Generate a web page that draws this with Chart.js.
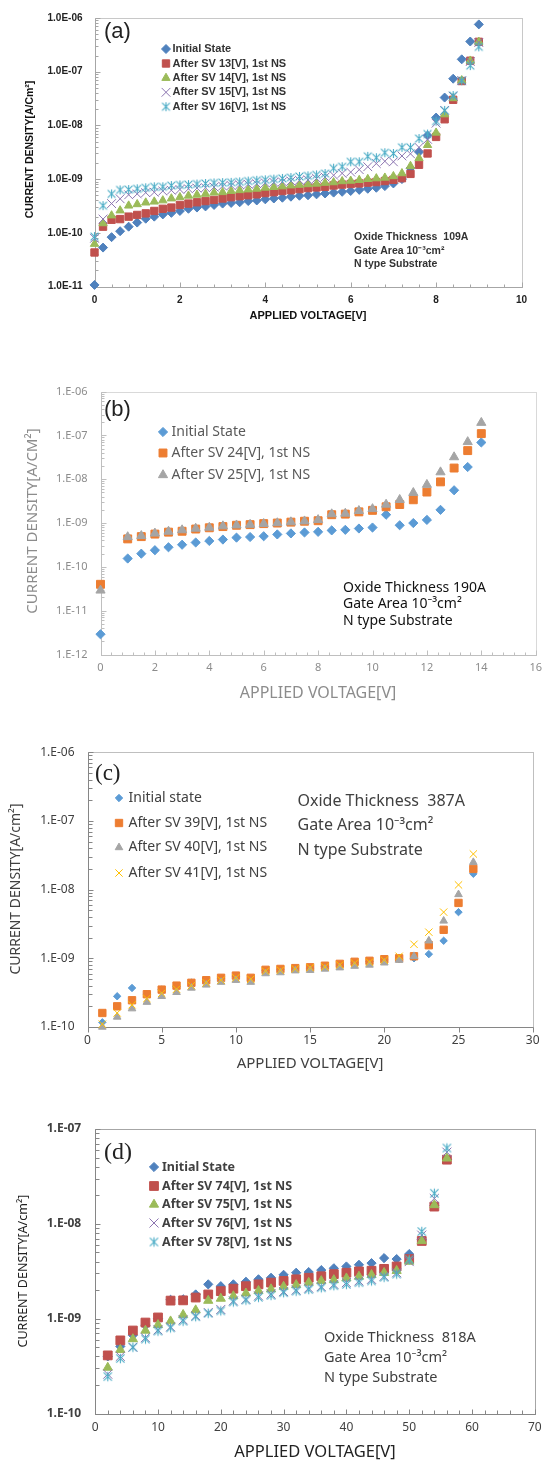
<!DOCTYPE html>
<html><head><meta charset="utf-8">
<script src="https://cdn.jsdelivr.net/npm/chart.js@4.4.1/dist/chart.umd.min.js"></script>
<style>html,body{margin:0;padding:0;background:#fff}body{width:549px;height:1461px;position:relative;overflow:hidden}canvas{position:absolute;left:0;display:block}</style>
</head><body>
<canvas id="ca"></canvas><canvas id="cb"></canvas><canvas id="cc"></canvas><canvas id="cd"></canvas>
<script>
// ---------------- Panel (a) data ----------------
const aX = [0,0.2,0.4,0.6,0.8,1,1.2,1.4,1.6,1.8,2,2.2,2.4,2.6,2.8,3,3.2,3.4,3.6,3.8,4,4.2,4.4,4.6,4.8,5,5.2,5.4,5.6,5.8,6,6.2,6.4,6.6,6.8,7,7.2,7.4,7.6,7.8,8,8.2,8.4,8.6,8.8,9];
const aInit = [1.07e-11,5.3e-11,8.3e-11,1.07e-10,1.3e-10,1.55e-10,1.83e-10,2.0e-10,2.2e-10,2.35e-10,2.55e-10,2.8e-10,2.95e-10,3.1e-10,3.3e-10,3.5e-10,3.6e-10,3.7e-10,3.9e-10,4.0e-10,4.2e-10,4.35e-10,4.5e-10,4.7e-10,4.9e-10,5.0e-10,5.2e-10,5.4e-10,5.6e-10,5.8e-10,6.0e-10,6.3e-10,6.6e-10,6.9e-10,7.4e-10,8.3e-10,1.0e-9,1.6e-9,3.2e-9,6.5e-9,1.4e-8,3.3e-8,7.4e-8,1.7e-7,3.65e-7,7.6e-7];
const aSV13 = [4.3e-11,1.3e-10,1.75e-10,1.8e-10,2.0e-10,2.15e-10,2.3e-10,2.55e-10,2.8e-10,2.95e-10,3.3e-10,3.5e-10,3.7e-10,3.9e-10,4.1e-10,4.35e-10,4.6e-10,4.8e-10,5.0e-10,5.2e-10,5.5e-10,5.7e-10,6.0e-10,6.2e-10,6.5e-10,6.8e-10,7.0e-10,7.2e-10,7.6e-10,7.9e-10,8.1e-10,8.3e-10,8.6e-10,8.8e-10,9.2e-10,9.7e-10,1.04e-9,1.25e-9,1.85e-9,3.0e-9,6.1e-9,1.3e-8,3.0e-8,6.7e-8,1.6e-7,3.6e-7];
const aSV14 = [6.2e-11,1.5e-10,2.1e-10,2.6e-10,3.2e-10,3.4e-10,3.65e-10,3.8e-10,4.0e-10,4.35e-10,4.6e-10,4.9e-10,5.1e-10,5.3e-10,5.6e-10,5.7e-10,6.0e-10,6.2e-10,6.4e-10,6.6e-10,6.9e-10,7.1e-10,7.3e-10,7.6e-10,7.8e-10,8.0e-10,8.2e-10,8.5e-10,8.7e-10,9.1e-10,9.3e-10,9.6e-10,1.0e-9,1.03e-9,1.06e-9,1.13e-9,1.28e-9,1.75e-9,2.45e-9,4.3e-9,7.3e-9,1.6e-8,3.2e-8,6.9e-8,1.6e-7,3.6e-7];
const aSV15 = [7.9e-11,1.8e-10,3.5e-10,4.3e-10,5.1e-10,5.3e-10,5.6e-10,5.7e-10,6.0e-10,6.2e-10,6.4e-10,6.6e-10,6.8e-10,6.9e-10,7.1e-10,7.4e-10,7.6e-10,7.8e-10,8.0e-10,8.2e-10,8.5e-10,8.7e-10,8.9e-10,9.2e-10,9.5e-10,9.7e-10,1.03e-9,1.09e-9,1.18e-9,1.28e-9,1.35e-9,1.5e-9,1.7e-9,1.95e-9,2.15e-9,2.1e-9,2.7e-9,2.96e-9,3.9e-9,5.5e-9,1.1e-8,1.9e-8,3.5e-8,6.8e-8,1.55e-7,3.5e-7];
const aSV16 = [8.5e-11,3.2e-10,5.3e-10,6.3e-10,6.4e-10,6.6e-10,6.9e-10,7.2e-10,7.2e-10,7.6e-10,7.8e-10,7.9e-10,8.1e-10,8.3e-10,8.5e-10,8.6e-10,8.7e-10,8.9e-10,9.2e-10,9.5e-10,9.7e-10,1.0e-9,1.03e-9,1.07e-9,1.12e-9,1.15e-9,1.2e-9,1.27e-9,1.6e-9,1.7e-9,2.1e-9,2.1e-9,2.65e-9,2.5e-9,3.1e-9,3.0e-9,3.9e-9,3.9e-9,5.7e-9,6.9e-9,1.2e-8,1.9e-8,3.6e-8,6.8e-8,1.3e-7,2.9e-7];
const aXTicks = [0,2,4,6,8,10];
const aXLabels = ['0','2','4','6','8','10'];
const aYTicks = [1e-11,1e-10,1e-9,1e-8,1e-7,1e-6];
const aYLabels = ['1.0E-11','1.0E-10','1.0E-09','1.0E-08','1.0E-07','1.0E-06'];
const aNames = ['Initial State','After SV 13[V], 1st NS','After SV 14[V], 1st NS','After SV 15[V], 1st NS','After SV 16[V], 1st NS'];

// ---------------- Panel (b) data ----------------
const bX = [0,1,1.5,2,2.5,3,3.5,4,4.5,5,5.5,6,6.5,7,7.5,8,8.5,9,9.5,10,10.5,11,11.5,12,12.5,13,13.5,14];
const bInit = [2.9e-12,1.55e-10,2.0e-10,2.4e-10,2.8e-10,3.2e-10,3.6e-10,3.9e-10,4.2e-10,4.65e-10,4.8e-10,5.0e-10,5.5e-10,5.8e-10,6.1e-10,6.3e-10,6.8e-10,7.0e-10,7.5e-10,7.9e-10,1.55e-9,8.9e-10,1.0e-9,1.18e-9,2.0e-9,5.6e-9,1.9e-8,6.9e-8];
const bSV24 = [4.0e-11,4.35e-10,4.9e-10,5.6e-10,6.2e-10,6.5e-10,7.3e-10,7.8e-10,8.3e-10,8.9e-10,9.2e-10,9.7e-10,1.0e-9,1.05e-9,1.1e-9,1.13e-9,1.55e-9,1.6e-9,1.8e-9,1.95e-9,2.35e-9,2.65e-9,3.4e-9,5.1e-9,8.7e-9,1.8e-8,4.5e-8,1.1e-7];
const bSV25 = [2.9e-11,4.8e-10,5.1e-10,5.8e-10,6.4e-10,6.9e-10,7.5e-10,7.9e-10,8.5e-10,8.9e-10,9.2e-10,9.6e-10,1.0e-9,1.05e-9,1.1e-9,1.18e-9,1.6e-9,1.65e-9,1.9e-9,2.1e-9,2.65e-9,3.4e-9,4.9e-9,7.5e-9,1.45e-8,3.2e-8,7.1e-8,1.95e-7];
const bXTicks = [0,2,4,6,8,10,12,14,16];
const bXLabels = ['0','2','4','6','8','10','12','14','16'];
const bYTicks = [1e-12,1e-11,1e-10,1e-9,1e-8,1e-7,1e-6];
const bYLabels = ['1.E-12','1.E-11','1.E-10','1.E-09','1.E-08','1.E-07','1.E-06'];
const bNames = ['Initial State','After SV 24[V], 1st NS','After SV 25[V], 1st NS'];

// ---------------- Panel (c) data ----------------
const cX = [1,2,3,4,5,6,7,8,9,10,11,12,13,14,15,16,17,18,19,20,21,22,23,24,25,26];
const cInit = [1.17e-10,2.8e-10,3.7e-10,3.0e-10,3.5e-10,3.9e-10,4.4e-10,4.7e-10,5.1e-10,5.5e-10,5.0e-10,6.6e-10,6.8e-10,7.0e-10,7.2e-10,7.6e-10,8.0e-10,8.6e-10,9.0e-10,9.5e-10,9.7e-10,1.0e-9,1.15e-9,1.8e-9,4.7e-9,1.7e-8];
const cSV39 = [1.6e-10,2.0e-10,2.45e-10,3.0e-10,3.5e-10,4.0e-10,4.4e-10,4.8e-10,5.2e-10,5.6e-10,5.2e-10,6.8e-10,7.0e-10,7.2e-10,7.4e-10,7.8e-10,8.3e-10,8.9e-10,9.2e-10,9.7e-10,1.0e-9,1.07e-9,1.55e-9,2.6e-9,6.4e-9,2.0e-8];
const cSV40 = [1.0e-10,1.4e-10,1.85e-10,2.3e-10,2.8e-10,3.2e-10,3.7e-10,4.1e-10,4.5e-10,4.8e-10,4.5e-10,6.0e-10,6.2e-10,6.6e-10,6.7e-10,7.0e-10,7.3e-10,7.7e-10,8.0e-10,8.6e-10,9.4e-10,1.07e-9,1.8e-9,3.5e-9,8.5e-9,2.5e-8];
const cSV41 = [1.1e-10,1.6e-10,2.1e-10,2.6e-10,3.1e-10,3.55e-10,4.0e-10,4.4e-10,4.8e-10,5.2e-10,4.95e-10,6.5e-10,6.7e-10,7.0e-10,7.3e-10,7.5e-10,8.0e-10,8.5e-10,8.8e-10,9.4e-10,1.07e-9,1.6e-9,2.4e-9,4.7e-9,1.17e-8,3.3e-8];
const cXTicks = [0,5,10,15,20,25,30];
const cXLabels = ['0','5','10','15','20','25','30'];
const cYTicks = [1e-10,1e-9,1e-8,1e-7,1e-6];
const cYLabels = ['1.E-10','1.E-09','1.E-08','1.E-07','1.E-06'];
const cNames = ['Initial state','After SV 39[V], 1st NS','After SV 40[V], 1st NS','After SV 41[V], 1st NS'];

// ---------------- Panel (d) data ----------------
const dX = [2,4,6,8,10,12,14,16,18,20,22,24,26,28,30,32,34,36,38,40,42,44,46,48,50,52,54,56];
const dInit = [4.0e-10,5.1e-10,6.7e-10,8.5e-10,1.0e-9,1.58e-9,1.6e-9,1.8e-9,2.3e-9,2.2e-9,2.3e-9,2.45e-9,2.6e-9,2.7e-9,2.9e-9,3.05e-9,3.1e-9,3.25e-9,3.4e-9,3.55e-9,3.7e-9,3.85e-9,4.35e-9,4.25e-9,4.8e-9,6.8e-9,1.55e-8,4.8e-8];
const dSV74 = [4.1e-10,5.9e-10,7.5e-10,9.1e-10,1.03e-9,1.55e-9,1.56e-9,1.67e-9,1.8e-9,1.95e-9,2.07e-9,2.2e-9,2.3e-9,2.4e-9,2.5e-9,2.6e-9,2.7e-9,2.8e-9,2.95e-9,3.05e-9,3.15e-9,3.2e-9,3.35e-9,3.55e-9,4.25e-9,6.6e-9,1.52e-8,4.75e-8];
const dSV75 = [3.05e-10,4.7e-10,6.1e-10,7.5e-10,8.6e-10,9.4e-10,1.1e-9,1.23e-9,1.55e-9,1.63e-9,1.73e-9,1.85e-9,1.97e-9,2.05e-9,2.18e-9,2.27e-9,2.4e-9,2.5e-9,2.56e-9,2.67e-9,2.78e-9,2.9e-9,3.05e-9,3.2e-9,4.0e-9,6.6e-9,1.58e-8,4.9e-8];
const dSV76 = [2.6e-10,4.0e-10,5.0e-10,6.3e-10,7.6e-10,8.2e-10,9.7e-10,1.07e-9,1.16e-9,1.25e-9,1.54e-9,1.6e-9,1.74e-9,1.82e-9,1.93e-9,2.0e-9,2.1e-9,2.18e-9,2.3e-9,2.4e-9,2.5e-9,2.6e-9,2.8e-9,3.05e-9,4.0e-9,7.6e-9,1.85e-8,5.7e-8];
const dSV78 = [2.45e-10,3.8e-10,5.0e-10,6.1e-10,7.4e-10,8.0e-10,9.4e-10,1.05e-9,1.14e-9,1.21e-9,1.5e-9,1.57e-9,1.68e-9,1.76e-9,1.88e-9,1.95e-9,2.03e-9,2.12e-9,2.23e-9,2.3e-9,2.4e-9,2.5e-9,2.73e-9,2.95e-9,4.2e-9,8.3e-9,2.1e-8,6.3e-8];
const dXTicks = [0,10,20,30,40,50,60,70];
const dXLabels = ['0','10','20','30','40','50','60','70'];
const dYTicks = [1e-10,1e-9,1e-8,1e-7];
const dYLabels = ['1.E-10','1.E-09','1.E-08','1.E-07'];
const dNames = ['Initial State','After SV 74[V], 1st NS','After SV 75[V], 1st NS','After SV 76[V], 1st NS','After SV 78[V], 1st NS'];

// ---------------- helpers ----------------
function asterisk(color, r) {
  const c = document.createElement('canvas');
  const s = Math.ceil(2 * r + 3); c.width = s; c.height = s;
  const g = c.getContext('2d'); g.strokeStyle = color; g.lineWidth = 1.1;
  const m = s / 2, o = r * 0.85;
  g.beginPath();
  g.moveTo(m - o, m - o); g.lineTo(m + o, m + o);
  g.moveTo(m - o, m + o); g.lineTo(m + o, m - o);
  g.moveTo(m, m - r); g.lineTo(m, m + r);
  g.stroke();
  return c;
}
function drawMarker(ctx, st, r, x, y, color) {
  ctx.save(); ctx.fillStyle = color; ctx.strokeStyle = color; ctx.lineWidth = 1;
  ctx.beginPath();
  if (st === 'rectRot') { ctx.moveTo(x, y - r); ctx.lineTo(x + r, y); ctx.lineTo(x, y + r); ctx.lineTo(x - r, y); ctx.closePath(); ctx.fill(); ctx.stroke(); }
  else if (st === 'rect') { const s = r * Math.SQRT1_2; ctx.rect(x - s, y - s, 2 * s, 2 * s); ctx.fill(); ctx.stroke(); }
  else if (st === 'triangle') { const c = Math.cos(Math.PI / 6) * r; ctx.moveTo(x, y - r); ctx.lineTo(x + c, y + r / 2); ctx.lineTo(x - c, y + r / 2); ctx.closePath(); ctx.fill(); ctx.stroke(); }
  else if (st === 'crossRot') { const o = r * Math.SQRT1_2; ctx.moveTo(x - o, y - o); ctx.lineTo(x + o, y + o); ctx.moveTo(x - o, y + o); ctx.lineTo(x + o, y - o); ctx.stroke(); }
  else if (st && st.getContext) { ctx.drawImage(st, x - st.width / 2, y - st.height / 2); }
  ctx.restore();
}
function txt(ctx, t, x, y, font, color, align, rot) {
  ctx.save(); ctx.font = font; ctx.fillStyle = color; ctx.textAlign = align || 'left'; ctx.textBaseline = 'middle';
  ctx.translate(x, y); if (rot) ctx.rotate(rot); ctx.fillText(t, 0, 0); ctx.restore();
}

const deco = {
  id: 'deco',
  beforeDatasetsDraw(chart, args, o) {
    const ctx = chart.ctx, a = chart.chartArea, xs = chart.scales.x, ys = chart.scales.y;
    ctx.save();
    ctx.lineWidth = 1;
    const L = Math.round(a.left) + 0.5, R = Math.round(a.right) + 0.5, T = Math.round(a.top) + 0.5, B = Math.round(a.bottom) + 0.5;
    ctx.strokeStyle = o.frame; ctx.strokeRect(L, T, R - L, B - T);
    ctx.strokeStyle = o.axis; ctx.beginPath(); ctx.moveTo(L, T); ctx.lineTo(L, B); ctx.lineTo(R, B); ctx.stroke();
    ctx.strokeStyle = o.tick; ctx.beginPath();
    const dir = o.inside ? -1 : 1;
    // x ticks
    if (o.xMinor) {
      for (let v = xs.min; v <= xs.max + 1e-9; v += o.xMinor) {
        const px = Math.round(xs.getPixelForValue(v)) + 0.5;
        ctx.moveTo(px, B); ctx.lineTo(px, B + dir * o.minorLen);
      }
    }
    for (const v of o.xMajor) {
      const px = Math.round(xs.getPixelForValue(v)) + 0.5;
      const xd = o.xMajorOut ? 1 : dir;
      ctx.moveTo(px, B); ctx.lineTo(px, B + xd * o.majorLen);
    }
    // y ticks (log)
    const lo = Math.round(Math.log10(ys.min)), hi = Math.round(Math.log10(ys.max));
    for (let e = lo; e <= hi; e++) {
      for (let k = 1; k <= 9; k++) {
        const v = k * Math.pow(10, e);
        if (v > ys.max * 1.0001) break;
        const py = Math.round(ys.getPixelForValue(v)) + 0.5;
        const len = k === 1 ? o.majorLen : o.minorLen;
        ctx.moveTo(L, py); ctx.lineTo(L - dir * len, py);
      }
    }
    ctx.stroke();
    ctx.restore();
  },
  afterDraw(chart, args, o) {
    const ctx = chart.ctx, off = o.top;
    for (const t of o.texts) txt(ctx, t.t, t.x, t.y - off, t.font, t.color, t.align, t.rot);
    const lg = o.legend;
    chart.data.datasets.forEach((ds, i) => {
      const y = lg.ys[i] - off;
      drawMarker(ctx, ds.pointStyle, lg.r ? lg.r[i] : ds.pointRadius, lg.mx, y, ds.borderColor);
      txt(ctx, ds.label, lg.tx, y, lg.font, lg.color, 'left');
    });
  }
};

function makeChart(id, c) {
  const cv = document.getElementById(id);
  cv.width = 549; cv.height = c.h; cv.style.top = c.top + 'px';
  const datasets = c.series.map((s, i) => ({
    label: s.label,
    data: c.x.map((xv, j) => ({ x: xv, y: s.data[j] })),
    pointStyle: s.style, pointRadius: s.r, pointHoverRadius: s.r,
    backgroundColor: s.color, borderColor: s.color, pointBorderWidth: s.bw == null ? 1 : s.bw,
    showLine: false, clip: false, order: -i
  }));
  return new Chart(cv, {
    type: 'scatter',
    data: { datasets },
    options: {
      responsive: false, animation: false, events: [],
      layout: { autoPadding: false, padding: { left: 0, right: 549 - c.area.R, top: c.area.T - c.top, bottom: 0 } },
      plugins: {
        legend: { display: false }, tooltip: { enabled: false },
        deco: Object.assign({ top: c.top }, c.deco)
      },
      scales: {
        x: {
          type: 'linear', position: 'bottom', min: c.xMin, max: c.xMax,
          grid: { display: false, drawTicks: false }, border: { display: false },
          afterBuildTicks: s => { s.ticks = c.xTicks.map(v => ({ value: v })); },
          afterFit: s => { s.height = c.top + c.h - c.area.B; },
          ticks: { autoSkip: false, maxRotation: 0, minRotation: 0, padding: c.xPad, font: c.xFont, color: c.tickColor,
            callback: (v, i) => c.xLabels[i] }
        },
        y: {
          type: 'logarithmic', position: 'left', min: c.yMin, max: c.yMax,
          grid: { display: false, drawTicks: false }, border: { display: false },
          afterBuildTicks: s => { s.ticks = c.yTicks.map(v => ({ value: v, major: true })); },
          afterFit: s => { s.width = c.area.L; },
          ticks: { autoSkip: false, padding: c.yPad, font: c.yFont, color: c.tickColor,
            callback: (v, i) => c.yLabels[i] }
        }
      }
    },
    plugins: [deco]
  });
}

// Office 2007 palette (a,d) and Office 2013 palette (b,c)
const C1 = { blue: '#4f81bd', red: '#c0504d', green: '#9bbb59', purple: '#8b74b0', cyan: '#4bacc6' };
const C2 = { blue: '#5b9bd5', orange: '#ed7d31', gray: '#a5a5a5', yellow: '#ffc000' };
const SANS = "'Liberation Sans', Arial, sans-serif";
const NOTO = "'Noto Sans', 'Open Sans', sans-serif";
const SERIF = "'Liberation Serif', 'DejaVu Serif', serif";

// ---------- (a) ----------
makeChart('ca', {
  top: 0, h: 330, area: { L: 94.5, R: 521.5, T: 12.5, B: 286.5 },
  x: aX, xMin: 0, xMax: 10, xTicks: aXTicks, xLabels: aXLabels,
  yMin: 1e-11, yMax: 1e-6, yTicks: aYTicks, yLabels: aYLabels,
  xPad: 8, yPad: 12, xFont: { family: SANS, size: 10, weight: 'bold' }, yFont: { family: SANS, size: 10, weight: 'bold' }, tickColor: '#222',
  series: [
    { label: aNames[0], data: aInit, style: 'rectRot', r: 4.5, color: C1.blue },
    { label: aNames[1], data: aSV13, style: 'rect', r: 5.2, color: C1.red },
    { label: aNames[2], data: aSV14, style: 'triangle', r: 4.8, color: C1.green },
    { label: aNames[3], data: aSV15, style: 'crossRot', r: 6.2, color: C1.purple },
    { label: aNames[4], data: aSV16, style: asterisk(C1.cyan, 4.6), r: 5, color: C1.cyan }
  ],
  deco: {
    frame: '#c8c8c8', axis: '#a6a6a6', tick: '#a6a6a6', inside: true, xMinor: 0.4, xMajor: aXTicks, majorLen: 5, minorLen: 3,
    legend: { mx: 166, tx: 172.5, ys: [49, 63.5, 78, 92.3, 106.7], font: `bold 11px ${SANS}`, color: '#333' },
    texts: [
      { t: '(a)', x: 104, y: 32, font: `22px ${SANS}`, color: '#222' },
      { t: 'APPLIED VOLTAGE[V]', x: 308, y: 316, font: `bold 11px ${SANS}`, color: '#111', align: 'center' },
      { t: 'CURRENT DENSITY[A/Cm²]', x: 30, y: 149.5, font: `bold 10.5px ${SANS}`, color: '#111', align: 'center', rot: -Math.PI / 2 },
      { t: 'Oxide Thickness  109A', x: 354, y: 237, font: `bold 10.5px ${SANS}`, color: '#333' },
      { t: 'Gate Area 10⁻³cm²', x: 354, y: 251, font: `bold 10.5px ${SANS}`, color: '#333' },
      { t: 'N type Substrate', x: 354, y: 264, font: `bold 10.5px ${SANS}`, color: '#333' }
    ]
  }
});

// ---------- (b) ----------
makeChart('cb', {
  top: 372, h: 338, area: { L: 100.5, R: 536, T: 387.3, B: 654.5 },
  x: bX, xMin: 0, xMax: 16, xTicks: bXTicks, xLabels: bXLabels,
  yMin: 1e-12, yMax: 1e-6, yTicks: bYTicks, yLabels: bYLabels,
  xPad: 7, yPad: 13, xFont: { family: NOTO, size: 11 }, yFont: { family: NOTO, size: 11 }, tickColor: '#8c8c8c',
  series: [
    { label: bNames[0], data: bInit, style: 'rectRot', r: 4.6, color: C2.blue },
    { label: bNames[1], data: bSV24, style: 'rect', r: 5.6, color: C2.orange },
    { label: bNames[2], data: bSV25, style: 'triangle', r: 5.3, color: C2.gray }
  ],
  deco: {
    frame: '#d9d9d9', axis: '#bfbfbf', tick: '#bfbfbf', inside: true, xMinor: 0.4, xMajor: bXTicks, majorLen: 5, minorLen: 3,
    legend: { mx: 163, tx: 171.5, ys: [432, 453, 475], font: `14px ${NOTO}`, color: '#595959' },
    texts: [
      { t: '(b)', x: 104, y: 410, font: `22px ${SANS}`, color: '#222' },
      { t: 'APPLIED VOLTAGE[V]', x: 318, y: 693, font: `16px ${NOTO}`, color: '#8c8c8c', align: 'center' },
      { t: 'CURRENT DENSITY[A/CM²]', x: 33, y: 521, font: `15px ${NOTO}`, color: '#8c8c8c', align: 'center', rot: -Math.PI / 2 },
      { t: 'Oxide Thickness 190A', x: 343, y: 588, font: `14px ${NOTO}`, color: '#111' },
      { t: 'Gate Area 10⁻³cm²', x: 343, y: 604.5, font: `14px ${NOTO}`, color: '#111' },
      { t: 'N type Substrate', x: 343, y: 621, font: `14px ${NOTO}`, color: '#111' }
    ]
  }
});

// ---------- (c) ----------
makeChart('cc', {
  top: 732, h: 345, area: { L: 87.5, R: 532.7, T: 750.7, B: 1027 },
  x: cX, xMin: 0, xMax: 30, xTicks: cXTicks, xLabels: cXLabels,
  yMin: 1e-10, yMax: 1e-6, yTicks: cYTicks, yLabels: cYLabels,
  xPad: 6, yPad: 13, xFont: { family: NOTO, size: 12 }, yFont: { family: NOTO, size: 12 }, tickColor: '#404040',
  series: [
    { label: cNames[0], data: cInit, style: 'rectRot', r: 3.7, color: C2.blue },
    { label: cNames[1], data: cSV39, style: 'rect', r: 5.2, color: C2.orange },
    { label: cNames[2], data: cSV40, style: 'triangle', r: 4.4, color: C2.gray },
    { label: cNames[3], data: cSV41, style: 'crossRot', r: 5.2, color: C2.yellow }
  ],
  deco: {
    frame: '#bfbfbf', axis: '#868686', tick: '#868686', inside: true, xMinor: 0, xMajor: cXTicks, xMajorOut: true, majorLen: 5, minorLen: 4,
    legend: { mx: 119, tx: 128.5, ys: [798, 823, 847.5, 873], font: `14px ${NOTO}`, color: '#404040' },
    texts: [
      { t: '(c)', x: 95, y: 774, font: `23px ${SERIF}`, color: '#222' },
      { t: 'APPLIED VOLTAGE[V]', x: 310, y: 1064, font: `15px ${NOTO}`, color: '#404040', align: 'center' },
      { t: 'CURRENT DENSITY[A/cm²]', x: 16, y: 889, font: `14px ${NOTO}`, color: '#404040', align: 'center', rot: -Math.PI / 2 },
      { t: 'Oxide Thickness  387A', x: 297.5, y: 801, font: `16px ${NOTO}`, color: '#404040' },
      { t: 'Gate Area 10⁻³cm²', x: 297.5, y: 825, font: `16px ${NOTO}`, color: '#404040' },
      { t: 'N type Substrate', x: 297.5, y: 850, font: `16px ${NOTO}`, color: '#404040' }
    ]
  }
});

// ---------- (d) ----------
makeChart('cd', {
  top: 1100, h: 361, area: { L: 95.2, R: 534.8, T: 1129, B: 1413.5 },
  x: dX, xMin: 0, xMax: 70, xTicks: dXTicks, xLabels: dXLabels,
  yMin: 1e-10, yMax: 1e-7, yTicks: dYTicks, yLabels: dYLabels,
  xPad: 7, yPad: 14, xFont: { family: NOTO, size: 12 }, yFont: { family: NOTO, size: 12, weight: 'bold' }, tickColor: '#404040',
  series: [
    { label: dNames[0], data: dInit, style: 'rectRot', r: 4.6, color: C1.blue },
    { label: dNames[1], data: dSV74, style: 'rect', r: 6.2, color: C1.red },
    { label: dNames[2], data: dSV75, style: 'triangle', r: 5.3, color: C1.green },
    { label: dNames[3], data: dSV76, style: 'crossRot', r: 6.4, color: C1.purple },
    { label: dNames[4], data: dSV78, style: asterisk(C1.cyan, 4.8), r: 5, color: C1.cyan }
  ],
  deco: {
    frame: '#a6a6a6', axis: '#868686', tick: '#868686', inside: true, xMinor: 2, xMajor: dXTicks, majorLen: 5, minorLen: 4,
    legend: { mx: 154, tx: 162, ys: [1167, 1186, 1204.5, 1223, 1242], font: `bold 12.5px ${NOTO}`, color: '#404040' },
    texts: [
      { t: '(d)', x: 104, y: 1153, font: `24px ${SERIF}`, color: '#222' },
      { t: 'APPLIED VOLTAGE[V]', x: 315, y: 1452, font: `16.5px ${NOTO}`, color: '#222', align: 'center' },
      { t: 'CURRENT DENSITY[A/cm²]', x: 23, y: 1271, font: `12.5px ${NOTO}`, color: '#222', align: 'center', rot: -Math.PI / 2 },
      { t: 'Oxide Thickness  818A', x: 324, y: 1338, font: `14.5px ${NOTO}`, color: '#404040' },
      { t: 'Gate Area 10⁻³cm²', x: 324, y: 1358, font: `14.5px ${NOTO}`, color: '#404040' },
      { t: 'N type Substrate', x: 324, y: 1378, font: `14.5px ${NOTO}`, color: '#404040' }
    ]
  }
});
</script>
</body></html>
